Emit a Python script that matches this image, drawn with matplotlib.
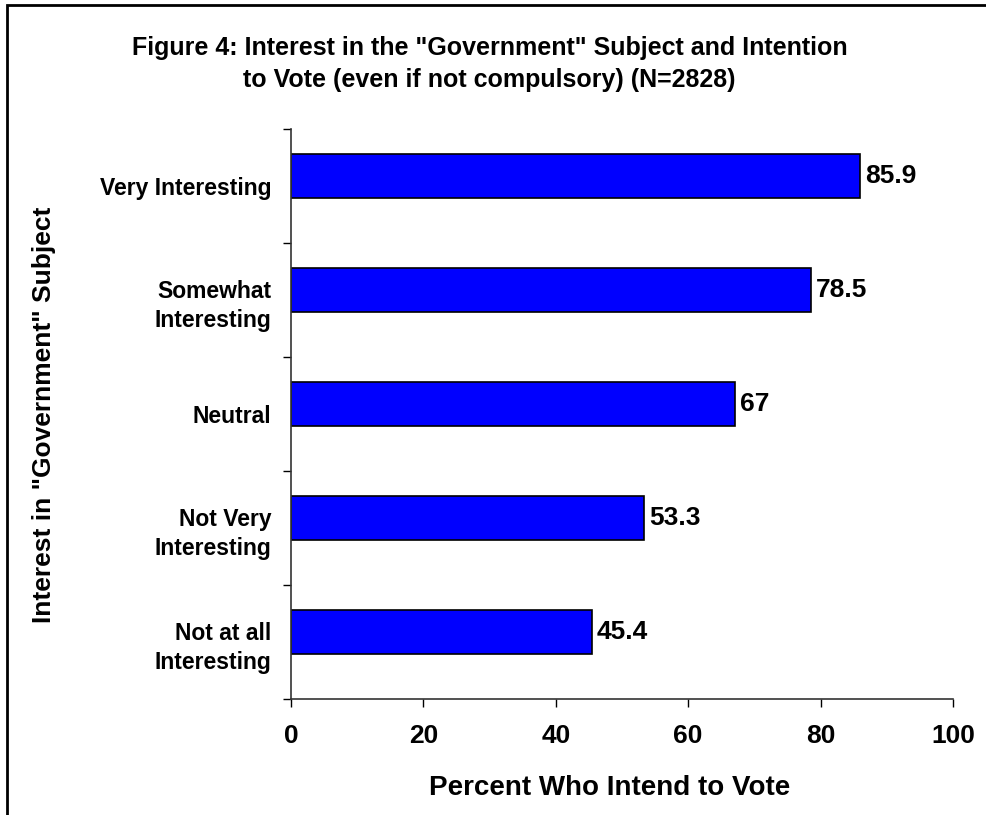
import numpy as np
import matplotlib.pyplot as plt
from matplotlib.patches import Rectangle

# data
categories = ["Very Interesting", "Somewhat\nInteresting", "Neutral",
              "Not Very\nInteresting", "Not at all\nInteresting"]
values = [85.9, 78.5, 67, 53.3, 45.4]
value_labels = ["85.9", "78.5", "67", "53.3", "45.4"]
xticks = [0, 20, 40, 60, 80, 100]

plt.rcParams["font.family"] = ["Liberation Sans", "DejaVu Sans"]
plt.rcParams["font.weight"] = "bold"

fig = plt.figure(figsize=(9.86, 8.15), dpi=100)
ax = fig.add_axes([0.2951, 0.1423, 0.6714, 0.6994])

pos = np.arange(len(categories))
ax.barh(pos, values, height=0.39, color="#0000ff", edgecolor="black", linewidth=1.2)

for p, v, t in zip(pos, values, value_labels):
    ax.text(v + 0.8, p, t, va="center", ha="left", fontsize=19, fontweight="bold")

ax.set_xlim(0, 100)
ax.set_ylim(len(categories) - 0.41, -0.41)

# category boundaries as major ticks, labels on minor ticks
ax.set_yticks(np.arange(len(categories) + 1) - 0.41)
ax.set_yticklabels([])
ax.set_yticks(pos + 0.09, minor=True)
ax.set_yticklabels(categories, minor=True, fontsize=16.5, fontweight="bold",
                   linespacing=1.35)
ax.tick_params(axis="y", which="minor", length=0, pad=14)
ax.tick_params(axis="y", which="major", length=6, width=1, direction="out")

ax.set_xticks(xticks)
ax.set_xticklabels([str(x) for x in xticks], fontsize=19, fontweight="bold")
ax.tick_params(axis="x", length=6, width=1, direction="out", pad=12)

for s in ["top", "right"]:
    ax.spines[s].set_visible(False)
for s in ["left", "bottom"]:
    ax.spines[s].set_linewidth(1.2)
    ax.spines[s].set_color("#333333")

ax.set_xlabel("Percent Who Intend to Vote", fontsize=20, fontweight="bold")
ax.xaxis.set_label_coords(0.481, -0.134)
fig.text(0.0446, 0.491, 'Interest in "Government" Subject', rotation=90,
         ha="center", va="center", fontsize=19, fontweight="bold")

fig.text(0.4965, 0.9215, 'Figure 4: Interest in the "Government" Subject and Intention\n'
         'to Vote (even if not compulsory) (N=2828)',
         ha="center", va="center", fontsize=18, fontweight="bold", linespacing=1.4)

# chart frame (cropped on right/bottom)
fig.patches.append(Rectangle((7 / 986, -0.1), 1.2, 1 - 5 / 815 + 0.1,
                             transform=fig.transFigure, fill=False,
                             edgecolor="black", linewidth=2))

fig.savefig("out.png", dpi=100)
